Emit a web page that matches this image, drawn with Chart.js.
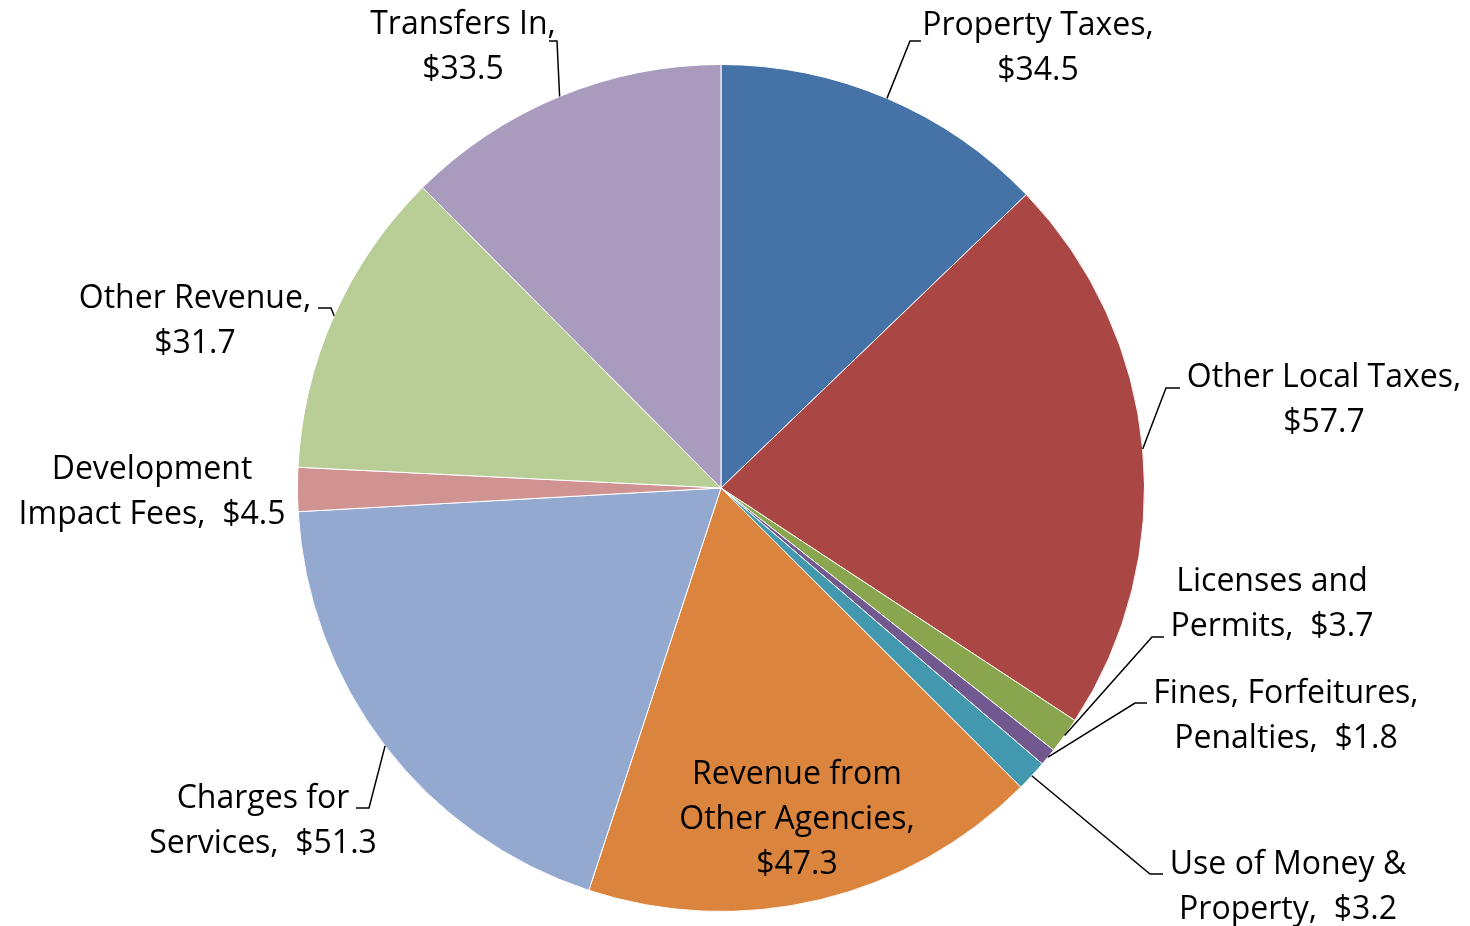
<!DOCTYPE html>
<html><head><meta charset="utf-8">
<script src="https://cdn.jsdelivr.net/npm/chart.js@4/dist/chart.umd.min.js"></script>
<style>html,body{margin:0;padding:0;background:#fff}#wrap{width:1470px;height:926px}</style>
</head><body><div id="wrap"><canvas id="c" width="1470" height="926"></canvas></div>
<script>
// ---- data ----
const categories = ["Property Taxes","Other Local Taxes","Licenses and Permits","Fines, Forfeitures, Penalties","Use of Money & Property","Revenue from Other Agencies","Charges for Services","Development Impact Fees","Other Revenue","Transfers In"];
const values = [34.5, 57.7, 3.7, 1.8, 3.2, 47.3, 51.3, 4.5, 31.7, 33.5];
const colors = ["#4572A7","#AA4643","#89A54E","#71588F","#4198AF","#DB843D","#93A9CF","#D19392","#B9CD96","#A99BBD"];
// label text templates ({v} = value)
const labelTemplates = [
  ["Property Taxes,", "{v}"],
  ["Other Local Taxes,", "{v}"],
  ["Licenses and", "Permits,  {v}"],
  ["Fines, Forfeitures,", "Penalties,  {v}"],
  ["Use of Money &", "Property,  {v}"],
  ["Revenue from", "Other Agencies,", "{v}"],
  ["Charges for", "Services,  {v}"],
  ["Development", "Impact Fees,  {v}"],
  ["Other Revenue,", "{v}"],
  ["Transfers In,", "{v}"]
];

// ---- layout (offsets from pie centre, px) ----
const labelLayout = [
  {tx: 317, ty: -464, elbow: [189, -447], end: [200, -447]},
  {tx: 603, ty: -112, elbow: [445, -100], end: [459, -100]},
  {tx: 551, ty: 92,   elbow: [431, 149],  end: [443, 149]},
  {tx: 565, ty: 204,  elbow: [414, 215],  end: [426, 215]},
  {tx: 567, ty: 375,  elbow: [429, 386],  end: [442, 386]},
  {tx: 76,  ty: 285,  elbow: null},
  {tx: -458, ty: 309, elbow: [-352, 320], end: [-365, 320]},
  {tx: -569, ty: -20, elbow: null},
  {tx: -526, ty: -191, elbow: [-390, -180], end: [-403, -180]},
  {tx: -258, ty: -465, elbow: [-164, -447], end: [-172, -447]}
];
const LINE_GAP = 45;
const TEXT_SHIFT = 2;
const FONT = '32px "Open Sans", sans-serif';

const labelPlugin = {
  id: 'pieLabels',
  afterDatasetsDraw(chart) {
    const ctx = chart.ctx;
    const meta = chart.getDatasetMeta(0);
    ctx.save();
    ctx.font = FONT;
    ctx.fillStyle = '#000';
    ctx.strokeStyle = '#000';
    ctx.lineWidth = 1.5;
    ctx.textAlign = 'center';
    ctx.textBaseline = 'middle';
    meta.data.forEach((arc, i) => {
      const cx = arc.x, cy = arc.y, R = arc.outerRadius;
      const mid = (arc.startAngle + arc.endAngle) / 2;
      const L = labelLayout[i];
      const v = '$' + values[i].toFixed(1);
      labelTemplates[i].forEach((t, k) => {
        ctx.fillText(t.replace('{v}', v), cx + L.tx, cy + L.ty + TEXT_SHIFT + k * LINE_GAP);
      });
      if (L.elbow) {
        const ax = cx + R * Math.cos(mid), ay = cy + R * Math.sin(mid);
        ctx.beginPath();
        ctx.moveTo(ax, ay);
        ctx.lineTo(cx + L.elbow[0], cy + L.elbow[1]);
        ctx.lineTo(cx + L.end[0], cy + L.end[1]);
        ctx.stroke();
      }
    });
    ctx.restore();
  }
};

new Chart(document.getElementById('c'), {
  type: 'pie',
  data: {
    labels: categories,
    datasets: [{
      data: values,
      backgroundColor: colors,
      borderColor: '#ffffff',
      borderWidth: 1
    }]
  },
  options: {
    responsive: false,
    animation: false,
    layout: {padding: {top: 64, bottom: 14, left: 0, right: 28}},
    plugins: {legend: {display: false}, tooltip: {enabled: false}}
  },
  plugins: [labelPlugin]
});
</script>
</body></html>
